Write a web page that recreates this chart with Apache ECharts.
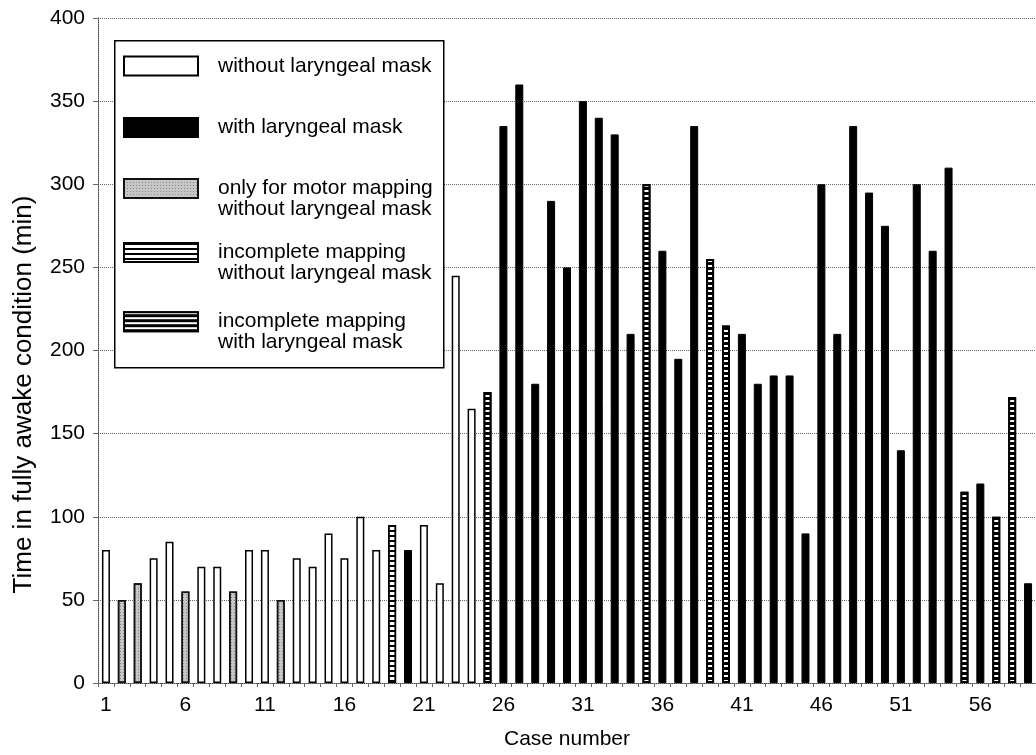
<!DOCTYPE html>
<html>
<head>
<meta charset="utf-8">
<script src="https://cdn.jsdelivr.net/npm/echarts@6/dist/echarts.min.js"></script>
<style>
html,body{margin:0;padding:0;background:#fff;overflow:hidden}
#chart{width:1036px;height:755px}
</style>
</head>
<body>
<div id="chart"></div>
<script>
// ---- data ----
const caseNumbers = ['1','2','3','4','5','6','7','8','9','10','11','12','13','14','15','16','17','18','19','20',
  '21','22','23','24','25','26','27','28','29','30','31','32','33','34','35','36','37','38','39','40',
  '41','42','43','44','45','46','47','48','49','50','51','52','53','54','55','56','57','58','59'];
const awakeMinutes = [80,50,60,75,85,55,70,70,55,80,80,50,75,70,90,75,100,80,95,80,
  95,60,245,165,175,335,360,180,290,250,350,340,330,210,300,260,195,335,255,215,
  210,180,185,185,90,300,210,335,295,275,140,300,260,310,115,120,100,172,60];
const caseGroups = ['W','M','M','W','W','M','W','W','M','W','W','M','W','W','W','W','W','W','IW','B',
  'W','W','W','W','IB','B','B','B','B','B','B','B','B','B','IB','B','B','B','IB','IB',
  'B','B','B','B','B','B','B','B','B','B','B','B','B','B','IB','B','IB','IB','B'];
const groupKeys = ['W','B','M','IW','IB'];
const groupLabels = ['without laryngeal mask','with laryngeal mask',
  'only for motor mapping\nwithout laryngeal mask',
  'incomplete mapping\nwithout laryngeal mask',
  'incomplete mapping\nwith laryngeal mask'];
const yTickValues = [0,50,100,150,200,250,300,350,400];

// ---- styles ----
const FONT = "'Liberation Sans', Arial, Helvetica, sans-serif";
const groupStyles = {
  W: {color:'#ffffff', borderColor:'#000', borderWidth:1.5},
  B: {color:'#000000', borderColor:'#000', borderWidth:1},
  M: {color:'#c6c6c6', borderColor:'#111', borderWidth:1.5,
      decal:{symbol:'rect', symbolSize:1, dashArrayX:[1,2], dashArrayY:[1,2], color:'rgba(90,90,90,0.55)'}},
  IW: {color:'#ffffff', borderColor:'#000', borderWidth:1.5,
      decal:{symbol:'rect', symbolSize:1, dashArrayX:[[1,0]], dashArrayY:[1.5,3], color:'#000'}},
  IB: {color:'#000000', borderColor:'#000', borderWidth:2,
      decal:{symbol:'rect', symbolSize:1, dashArrayX:[[1,0]], dashArrayY:[1.2,3], color:'#ffffff'}}
};
const legendPads = [[21.5,0,21.5,15],[18,0,18,15],[0,0,0,15],[0,0,0,15],[5.2,0,5.2,15]];

const series = groupKeys.map((k, gi) => ({
  name: groupLabels[gi],
  type: 'bar',
  barWidth: 8,
  barGap: '-100%',
  data: awakeMinutes.map((v, i) => caseGroups[i] === k ? v : '-'),
  itemStyle: groupStyles[k],
  emphasis: {disabled: true},
  z: 2
}));

const chart = echarts.init(document.getElementById('chart'), null, {renderer:'canvas'});
chart.setOption({
  animation: false,
  backgroundColor: '#ffffff',
  textStyle: {fontFamily: FONT},
  grid: {left: 98, width: 944, top: 18, bottom: 61, containLabel: false},
  xAxis: {
    type: 'category',
    data: caseNumbers,
    boundaryGap: true,
    axisLine: {show: true, lineStyle: {color: '#444', type: 'dotted', width: 1}},
    axisTick: {show: true, length: 4, interval: 0, lineStyle: {color: '#666'}},
    axisLabel: {interval: 4, margin: 12, fontSize: 21, color: '#000', fontFamily: FONT},
    splitLine: {show: false},
    name: 'Case number',
    nameLocation: 'middle',
    nameGap: 46,
    nameTextStyle: {fontSize: 21, color: '#000', fontFamily: FONT}
  },
  yAxis: {
    type: 'value',
    min: yTickValues[0],
    max: yTickValues[yTickValues.length - 1],
    interval: yTickValues[1] - yTickValues[0],
    axisLine: {show: true, lineStyle: {color: '#444', type: 'dotted', width: 1}},
    axisTick: {show: true, length: 5, lineStyle: {color: '#666'}},
    axisLabel: {margin: 13, fontSize: 21, color: '#000', fontFamily: FONT},
    splitLine: {show: true, lineStyle: {color: '#666', type: 'dotted', width: 1}},
    name: 'Time in fully awake condition (min)',
    nameLocation: 'middle',
    nameRotate: 90,
    nameGap: 61,
    nameTextStyle: {fontSize: 26, color: '#000', fontFamily: FONT, padding: [0, 88, 0, 0]}
  },
  legend: {
    orient: 'vertical',
    left: 123,
    top: 34,
    padding: 0,
    itemGap: 1,
    itemWidth: 74,
    itemHeight: 19,
    icon: 'rect',
    selectedMode: false,
    z: 5,
    formatter: function (name) { return name.indexOf('\n') >= 0 ? '\u00a0\n' + name : name; },
    textStyle: {fontSize: 21, lineHeight: 21, color: '#000', fontFamily: FONT},
    data: groupLabels.map((n, i) => ({name: n, textStyle: {padding: legendPads[i]}}))
  },
  graphic: [{
    type: 'rect', left: 114, top: 40, z: 3,
    shape: {width: 329, height: 327},
    style: {fill: '#ffffff', stroke: '#000', lineWidth: 1.5}
  }],
  series: series
});
</script>
</body>
</html>
